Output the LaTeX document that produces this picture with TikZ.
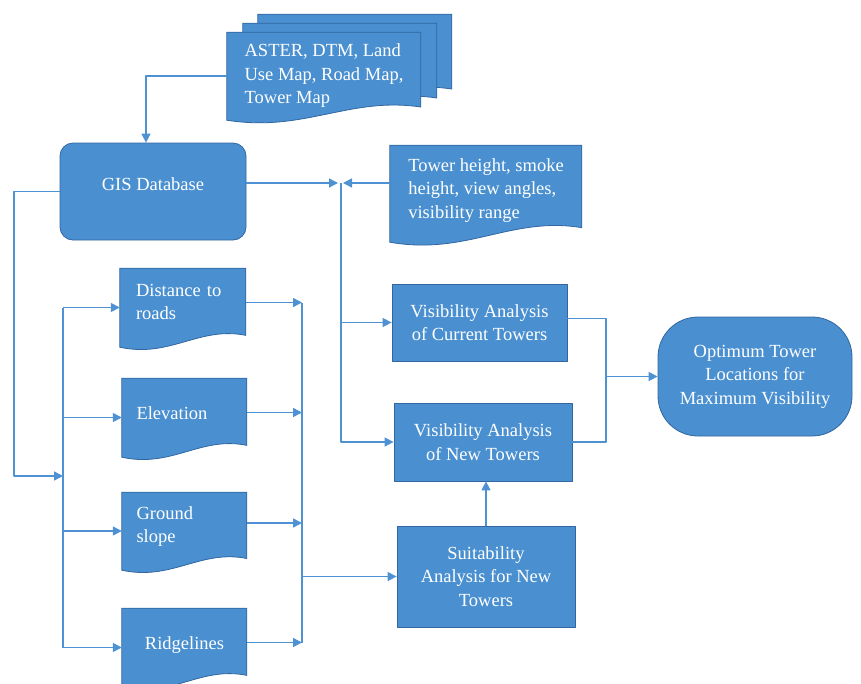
\documentclass[tikz,border=0pt]{standalone}
\usepackage{fontspec}
\setmainfont{Liberation Serif}
\usetikzlibrary{arrows.meta,backgrounds}

% document shape with a wavy bottom, drawn behind a node
\newcommand{\docshape}[4][]{%
  \path[doc fill,shift={(#2.south west)},#1,x=#3,y=#4]
    (0,1) -- (1,1) -- (1,0.15) .. controls (0.63,0.27) and (0.4,-0.14) .. (0,0) -- cycle;}

\begin{document}
\begin{tikzpicture}[x=1pt,y=-1pt,line join=round]
  % Colors
  \definecolor{boxcolor}{RGB}{74,144,208}
  \definecolor{edgecolor}{RGB}{50,102,160}
  \definecolor{linecolor}{RGB}{78,146,212}

  % Styles
  \tikzstyle{box text}=[text=white,font=\fontsize{18.5}{23.5}\selectfont]
  \tikzstyle{process box}=[box text,rectangle,fill=boxcolor,draw=edgecolor,line width=0.8pt,align=center,inner sep=0pt]
  \tikzstyle{doc box}=[box text,rectangle,inner sep=0pt,align=left]
  \tikzstyle{doc fill}=[fill=boxcolor,draw=edgecolor,line width=0.8pt]
  \tikzstyle{flow line}=[linecolor,line width=1.5pt]
  \tikzstyle{flow arrow}=[flow line,-{Triangle[length=9pt,width=9pt]}]

  \useasboundingbox (0,0) rectangle (861,683);

  % Inputs
  \node[doc box,minimum width=194pt,minimum height=88pt] (aster) at (324,76)
    {ASTER, DTM, Land\\Use Map, Road Map,\\Tower Map};
  \node[process box,rounded corners=13pt,minimum width=186pt,minimum height=97pt,text depth=15pt] (gis) at (153,191.5)
    {GIS Database};
  \node[doc box,minimum width=192pt,minimum height=97pt,text depth=10pt] (tower) at (486,193.5)
    {Tower height, smoke\\height, view angles,\\visibility range};

  % Layers
  \node[doc box,minimum width=126pt,minimum height=79pt,text width=94pt,text depth=35pt] (dist) at (183,307.5) {Distance to\\roads};
  \node[doc box,minimum width=125pt,minimum height=79pt,text width=96pt,text depth=9pt] (elev) at (184.5,417.5) {Elevation};
  \node[doc box,minimum width=125pt,minimum height=78pt,text width=96pt,text depth=36pt] (ground) at (184.5,531) {Ground\\slope};
  \node[doc box,minimum width=125pt,minimum height=79pt,text width=96pt,text depth=9pt,align=center] (ridge) at (184.5,647.5) {Ridgelines};

  % Analyses
  \node[process box,minimum width=175pt,minimum height=77pt] (vcur) at (479.5,322.5)
    {Visibility Analysis\\of Current Towers};
  \node[process box,minimum width=178pt,minimum height=78pt] (vnew) at (483,442)
    {Visibility Analysis\\of New Towers};
  \node[process box,minimum width=178pt,minimum height=101pt] (suit) at (486,576.5)
    {Suitability\\Analysis for New\\Towers};
  \node[process box,rounded corners=40pt,minimum width=194pt,minimum height=119pt] (opt) at (755,376.5)
    {Optimum Tower\\Locations for\\Maximum Visibility};

  % Document shapes
  \begin{pgfonlayer}{background}
    \docshape[xshift=31pt,yshift=18pt]{aster}{194pt}{88pt}
    \docshape[xshift=16pt,yshift=9pt]{aster}{194pt}{88pt}
    \docshape{aster}{194pt}{88pt}
    \docshape{tower}{192pt}{97pt}
    \docshape{dist}{126pt}{79pt}
    \docshape{elev}{125pt}{79pt}
    \docshape{ground}{125pt}{78pt}
    \docshape{ridge}{125pt}{79pt}
  \end{pgfonlayer}

  % Joins
  \coordinate (gisin) at ([xshift=-7pt]gis.north);
  \coordinate (topjoin) at (341,183);
  \coordinate (outer) at (14,476);
  \coordinate (leftbus) at (63,476);
  \coordinate (rightbus) at (302,578);
  \coordinate (outjoin) at (606,376.5);

  % Connectors
  \draw[flow arrow] (aster.west) -| (gisin);
  \draw[flow arrow] (gis.east |- topjoin) -- ([xshift=-3pt]topjoin);
  \draw[flow arrow] (tower.west |- topjoin) -- ([xshift=2pt]topjoin);
  \draw[flow arrow] (topjoin) |- (vnew.west);
  \draw[flow arrow] (topjoin |- vcur.west) -- (vcur.west);

  \draw[flow arrow] (gis.west) -| (outer) -- (leftbus);
  \draw[flow line] (leftbus |- dist.west) -- (leftbus |- ridge.west);
  \foreach \n in {dist,elev,ground,ridge}
    \draw[flow arrow] (leftbus |- \n.west) -- (\n.west);

  \foreach \n/\dy in {dist/5,elev/5,ground/8,ridge/5}
    \draw[flow arrow] ([yshift=\dy pt]\n.east) -- ([yshift=\dy pt]\n.east -| rightbus);
  \draw[flow line] ([yshift=5pt]dist.east -| rightbus) -- ([yshift=5pt]ridge.east -| rightbus);
  \draw[flow arrow] (rightbus |- suit.west) -- (suit.west);
  \draw[flow arrow] (suit.north) -- (suit.north |- vnew.south);

  \draw[flow line] ([yshift=4pt]vcur.east) -| (outjoin) |- (vnew.east);
  \draw[flow arrow] (outjoin) -- (opt.west);
\end{tikzpicture}
\end{document}
